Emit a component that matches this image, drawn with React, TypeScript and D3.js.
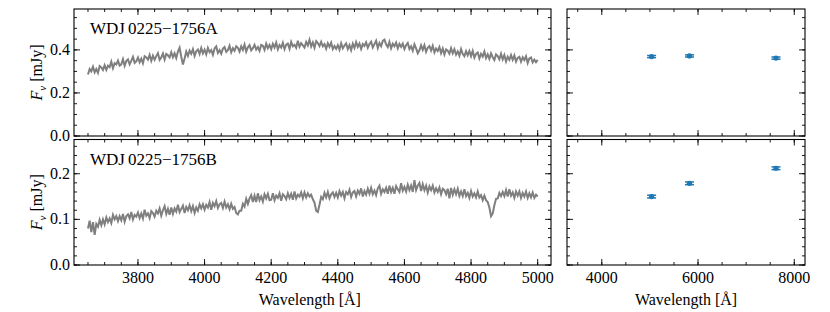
import * as d3 from 'd3'

// spectra sampled every 5 A from 3650 A
const WAVE_START = 3650
const WAVE_STEP = 5

const FLUX_A = [
  0.286, 0.311, 0.300, 0.322, 0.296, 0.311, 0.293, 0.325, 0.319, 0.307,
  0.329, 0.307, 0.327, 0.320, 0.345, 0.315, 0.338, 0.332, 0.350, 0.327,
  0.333, 0.357, 0.326, 0.348, 0.356, 0.333, 0.349, 0.368, 0.340, 0.347,
  0.365, 0.342, 0.359, 0.338, 0.371, 0.365, 0.355, 0.377, 0.349, 0.373,
  0.354, 0.371, 0.385, 0.354, 0.365, 0.383, 0.355, 0.381, 0.375, 0.365,
  0.389, 0.366, 0.384, 0.362, 0.392, 0.410, 0.368, 0.332, 0.360, 0.392,
  0.372, 0.397, 0.382, 0.403, 0.372, 0.394, 0.402, 0.381, 0.409, 0.384,
  0.401, 0.379, 0.409, 0.389, 0.399, 0.377, 0.407, 0.416, 0.386, 0.399,
  0.382, 0.406, 0.413, 0.391, 0.399, 0.419, 0.389, 0.408, 0.396, 0.417,
  0.410, 0.392, 0.417, 0.400, 0.425, 0.392, 0.412, 0.422, 0.398, 0.408,
  0.424, 0.402, 0.413, 0.396, 0.423, 0.419, 0.400, 0.429, 0.408, 0.423,
  0.403, 0.428, 0.411, 0.434, 0.403, 0.422, 0.411, 0.433, 0.403, 0.424,
  0.429, 0.405, 0.437, 0.417, 0.424, 0.410, 0.443, 0.415, 0.431, 0.421,
  0.411, 0.437, 0.421, 0.447, 0.416, 0.435, 0.410, 0.441, 0.432, 0.418,
  0.438, 0.417, 0.427, 0.405, 0.431, 0.415, 0.434, 0.404, 0.418, 0.405,
  0.422, 0.401, 0.431, 0.407, 0.420, 0.430, 0.404, 0.422, 0.399, 0.429,
  0.409, 0.436, 0.414, 0.430, 0.404, 0.427, 0.418, 0.435, 0.410, 0.427,
  0.438, 0.411, 0.427, 0.443, 0.409, 0.432, 0.417, 0.442, 0.448, 0.426,
  0.413, 0.437, 0.407, 0.429, 0.417, 0.434, 0.407, 0.428, 0.414, 0.429,
  0.404, 0.422, 0.432, 0.404, 0.417, 0.396, 0.426, 0.407, 0.384, 0.398,
  0.421, 0.400, 0.422, 0.391, 0.410, 0.418, 0.397, 0.419, 0.388, 0.406,
  0.395, 0.413, 0.385, 0.406, 0.378, 0.402, 0.396, 0.382, 0.408, 0.384,
  0.403, 0.378, 0.393, 0.373, 0.404, 0.381, 0.371, 0.394, 0.375, 0.395,
  0.371, 0.395, 0.364, 0.382, 0.388, 0.360, 0.382, 0.369, 0.392, 0.362,
  0.379, 0.358, 0.384, 0.366, 0.353, 0.379, 0.371, 0.356, 0.382, 0.356,
  0.376, 0.346, 0.368, 0.354, 0.376, 0.354, 0.374, 0.346, 0.363, 0.368,
  0.345, 0.366, 0.353, 0.370, 0.339, 0.360, 0.365, 0.342, 0.355, 0.343,
  0.354,
]

const FLUX_B = [
  0.080, 0.097, 0.072, 0.094, 0.066, 0.090, 0.084, 0.099, 0.087, 0.100,
  0.089, 0.104, 0.094, 0.102, 0.092, 0.110, 0.100, 0.107, 0.096, 0.107,
  0.098, 0.112, 0.095, 0.107, 0.111, 0.102, 0.116, 0.100, 0.110, 0.106,
  0.115, 0.103, 0.113, 0.102, 0.121, 0.108, 0.113, 0.103, 0.118, 0.114,
  0.106, 0.119, 0.113, 0.124, 0.108, 0.120, 0.129, 0.112, 0.123, 0.110,
  0.126, 0.112, 0.124, 0.117, 0.132, 0.116, 0.123, 0.130, 0.114, 0.127,
  0.120, 0.131, 0.118, 0.129, 0.114, 0.126, 0.119, 0.133, 0.124, 0.133,
  0.121, 0.132, 0.126, 0.138, 0.121, 0.136, 0.129, 0.140, 0.125, 0.133,
  0.136, 0.125, 0.139, 0.126, 0.133, 0.122, 0.134, 0.123, 0.127, 0.114,
  0.111, 0.119, 0.119, 0.134, 0.128, 0.145, 0.134, 0.146, 0.153, 0.138,
  0.152, 0.138, 0.157, 0.142, 0.150, 0.139, 0.155, 0.146, 0.156, 0.142,
  0.143, 0.157, 0.142, 0.152, 0.147, 0.157, 0.141, 0.155, 0.151, 0.144,
  0.157, 0.147, 0.156, 0.143, 0.161, 0.146, 0.154, 0.150, 0.159, 0.146,
  0.159, 0.148, 0.157, 0.150, 0.154, 0.144, 0.137, 0.119, 0.116, 0.132,
  0.149, 0.144, 0.158, 0.148, 0.160, 0.146, 0.155, 0.159, 0.149, 0.158,
  0.148, 0.162, 0.152, 0.160, 0.146, 0.160, 0.155, 0.165, 0.149, 0.159,
  0.162, 0.150, 0.163, 0.156, 0.168, 0.150, 0.162, 0.154, 0.167, 0.156,
  0.169, 0.155, 0.163, 0.153, 0.168, 0.174, 0.156, 0.166, 0.160, 0.169,
  0.156, 0.174, 0.160, 0.169, 0.156, 0.173, 0.166, 0.160, 0.179, 0.163,
  0.171, 0.161, 0.176, 0.164, 0.174, 0.160, 0.186, 0.164, 0.174, 0.180,
  0.162, 0.177, 0.164, 0.174, 0.159, 0.172, 0.164, 0.174, 0.159, 0.168,
  0.160, 0.170, 0.155, 0.167, 0.164, 0.155, 0.167, 0.146, 0.169, 0.154,
  0.166, 0.155, 0.167, 0.151, 0.161, 0.151, 0.166, 0.151, 0.158, 0.147,
  0.162, 0.150, 0.157, 0.148, 0.161, 0.148, 0.153, 0.142, 0.152, 0.142,
  0.138, 0.126, 0.107, 0.113, 0.131, 0.145, 0.146, 0.158, 0.151, 0.160,
  0.151, 0.164, 0.150, 0.166, 0.152, 0.159, 0.147, 0.161, 0.152, 0.161,
  0.147, 0.158, 0.150, 0.161, 0.147, 0.157, 0.148, 0.159, 0.147, 0.154,
  0.150,
]

// photometry (Gaia BP, G, RP)
const PHOT_WAVE = [5035, 5822, 7620]
const PHOT_A = [0.369, 0.372, 0.362]
const PHOT_A_ERR = [0.005, 0.005, 0.005]
const PHOT_B = [0.150, 0.179, 0.212]
const PHOT_B_ERR = [0.003, 0.003, 0.003]

const NAMES = ['0225\u22121756A', '0225\u22121756B']
const SPEC_TICKS = [3800, 4000, 4200, 4400, 4600, 4800, 5000]
const PHOT_TICKS = [4000, 6000, 8000]
const Y_TICKS_A = [0, 0.2, 0.4]
const Y_TICKS_B = [0, 0.1, 0.2]

const FONT = '"Liberation Serif", "Times New Roman", serif'
const W = 830
const H = 312

type Scale = d3.ScaleLinear<number, number>

function Frame({ x, y, xMajor, xMinor, yMajor, yMinor, xLabels, yLabels, yFmt }: {
  x: Scale; y: Scale; xMajor: number[]; xMinor: number[]; yMajor: number[]; yMinor: number[]
  xLabels: boolean; yLabels: boolean; yFmt: (v: number) => string
}) {
  const [x0, x1] = x.range()
  const [y1, y0] = y.range()
  const tick = (len: number) => (v: number, i: number, horiz: boolean) =>
    horiz ? (
      <g key={`${len}-x-${i}`}>
        <line x1={x(v)} x2={x(v)} y1={y1} y2={y1 - len} stroke="#000" strokeWidth={0.9} />
        <line x1={x(v)} x2={x(v)} y1={y0} y2={y0 + len} stroke="#000" strokeWidth={0.9} />
      </g>
    ) : (
      <g key={`${len}-y-${i}`}>
        <line x1={x0} x2={x0 + len} y1={y(v)} y2={y(v)} stroke="#000" strokeWidth={0.9} />
        <line x1={x1} x2={x1 - len} y1={y(v)} y2={y(v)} stroke="#000" strokeWidth={0.9} />
      </g>
    )
  return (
    <g>
      {xMinor.map((v, i) => tick(3)(v, i, true))}
      {xMajor.map((v, i) => tick(6)(v, i, true))}
      {yMinor.map((v, i) => tick(3)(v, i, false))}
      {yMajor.map((v, i) => tick(6)(v, i, false))}
      <rect x={x0} y={y0} width={x1 - x0} height={y1 - y0} fill="none" stroke="#000" strokeWidth={1.1} />
      {xLabels && xMajor.map((v) => (
        <text key={`xl-${v}`} x={x(v)} y={y1 + 18} textAnchor="middle" fontSize={16} fontFamily={FONT}>{v}</text>
      ))}
      {yLabels && yMajor.map((v) => (
        <text key={`yl-${v}`} x={x0 - 4} y={y(v) + 5} textAnchor="end" fontSize={16} fontFamily={FONT}>{yFmt(v)}</text>
      ))}
    </g>
  )
}

export default function App() {
  const waves = FLUX_A.map((_, i) => WAVE_START + i * WAVE_STEP)
  const xSpec = d3.scaleLinear().domain([3608, 5040]).range([74, 551])
  const xPhot = d3.scaleLinear().domain([3277, 8223]).range([567, 805])
  const rows = [
    { y: d3.scaleLinear().domain([0, 0.59]).range([136, 9]), flux: FLUX_A, phot: PHOT_A, err: PHOT_A_ERR,
      major: Y_TICKS_A, minor: d3.range(0, 0.59, 0.05), name: NAMES[0] },
    { y: d3.scaleLinear().domain([0, 0.275]).range([265, 139.5]), flux: FLUX_B, phot: PHOT_B, err: PHOT_B_ERR,
      major: Y_TICKS_B, minor: d3.range(0, 0.275, 0.02), name: NAMES[1] },
  ]
  const specMinor = d3.range(3650, 5040, 50)
  const photMinor = d3.range(3500, 8223, 500)
  const fmt = d3.format('.1f')

  return (
    <svg width={W} height={H} style={{ position: 'absolute', left: 0, top: 0, background: '#fff' }}>
      <defs>
        {rows.map((r, k) => (
          <clipPath id={`clip${k}`} key={k}>
            <rect x={74} y={r.y.range()[1]} width={551 - 74} height={r.y.range()[0] - r.y.range()[1]} />
          </clipPath>
        ))}
      </defs>
      {rows.map((r, k) => {
        const line = d3.line<number>().x((_, i) => xSpec(waves[i])).y((d) => r.y(d))
        const yMid = (r.y.range()[0] + r.y.range()[1]) / 2
        return (
          <g key={k}>
            <g clipPath={`url(#clip${k})`}>
              <path d={line(r.flux) ?? ''} fill="none" stroke="#7f7f7f" strokeWidth={2} strokeLinejoin="miter" />
            </g>
            <text x={90} y={r.y.range()[1] + 25} fontSize={17} fontFamily={FONT}>
              WDJ<tspan dx={3}>{r.name}</tspan>
            </text>
            <Frame x={xSpec} y={r.y} xMajor={SPEC_TICKS} xMinor={specMinor} yMajor={r.major} yMinor={r.minor}
              xLabels={k === 1} yLabels={true} yFmt={fmt} />
            <text transform={`translate(42,${yMid}) rotate(-90)`} textAnchor="middle" fontSize={16} fontFamily={FONT}>
              <tspan fontStyle="italic">F</tspan>
              <tspan fontStyle="italic" fontSize={11} dy={4}>ν</tspan>
              <tspan dy={-4} dx={4}>[mJy]</tspan>
            </text>
            {PHOT_WAVE.map((w, i) => {
              const cx = xPhot(w)
              const cy = r.y(r.phot[i])
              const lo = r.y(r.phot[i] - r.err[i])
              const hi = r.y(r.phot[i] + r.err[i])
              return (
                <g key={i} stroke="#1f77b4" fill="#1f77b4">
                  <line x1={cx} x2={cx} y1={lo} y2={hi} strokeWidth={1.5} />
                  <line x1={cx - 4.5} x2={cx + 4.5} y1={lo} y2={lo} strokeWidth={1.5} />
                  <line x1={cx - 4.5} x2={cx + 4.5} y1={hi} y2={hi} strokeWidth={1.5} />
                  <circle cx={cx} cy={cy} r={2.6} stroke="none" />
                </g>
              )
            })}
            <Frame x={xPhot} y={r.y} xMajor={PHOT_TICKS} xMinor={photMinor} yMajor={r.major} yMinor={r.minor}
              xLabels={k === 1} yLabels={false} yFmt={fmt} />
          </g>
        )
      })}
      <text x={xSpec(4316)} y={305} textAnchor="middle" fontSize={16} fontFamily={FONT}>Wavelength [Å]</text>
      <text x={xPhot(5750)} y={305} textAnchor="middle" fontSize={16} fontFamily={FONT}>Wavelength [Å]</text>
    </svg>
  )
}
